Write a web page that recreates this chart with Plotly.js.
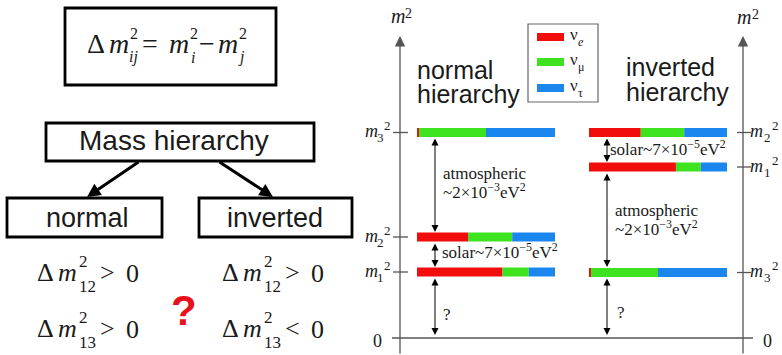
<!DOCTYPE html>
<html>
<head>
<meta charset="utf-8">
<script src="https://cdn.plot.ly/plotly-3.0.1.min.js"></script>
<style>html,body{margin:0;padding:0;background:#fff;}#chart{width:782px;height:355px;}</style>
</head>
<body>
<div id="chart"></div>
<script>
// ---------------- DATA ----------------
const flavors = ['ν_e', 'ν_μ', 'ν_τ'];
const flavorSubs = ['<i>e</i>', 'μ', 'τ'];
// normal hierarchy: mass states from top to bottom
const normalStates = ['3', '2', '1'];
const normalNuE   = [0.015, 0.37, 0.62];
const normalNuMu  = [0.485, 0.32, 0.19];
const normalNuTau = [0.50, 0.31, 0.19];
// inverted hierarchy: mass states from top to bottom
const invertedStates = ['2', '1', '3'];
const invertedNuE   = [0.375, 0.63, 0.015];
const invertedNuMu  = [0.315, 0.18, 0.485];
const invertedNuTau = [0.31, 0.19, 0.50];
const atmLabel = ['atmospheric', '~2×10<sup>−3</sup>eV<sup>2</sup>'];
const solarLabel = 'solar~7×10<sup>−5</sup>eV<sup>2</sup>';
const unknownLabel = '?';
const hierarchyNames = ['normal', 'inverted'];

// ---------------- LAYOUT CONSTANTS ----------------
const SERIF = 'Liberation Serif, Times New Roman, serif';
const SANS = 'Liberation Sans, Arial, sans-serif';
const COLORS = ['#f20d0d', '#3de31f', '#1b87ee'];
const INK = '#1a1a1a';
const AX = '#555555';
const BAR_LEN = 138, BAR_H = 9;
const normalX0 = 417, invertedX0 = 589;
const normalY = [132.5, 237, 272];
const invertedY = [132.5, 167, 272.5];

function txt(x, base, text, size, opt) {
  opt = opt || {};
  return {xref: 'x', yref: 'y', x: x, y: base + 0.22 * size, text: text, showarrow: false,
    xanchor: opt.anchor || 'left', yanchor: 'bottom', borderpad: 0, borderwidth: 0,
    font: {family: opt.family || SERIF, size: size, color: opt.color || INK}};
}
function arrow(x0, y0, x1, y1, opt) {
  opt = opt || {};
  const a = {xref: 'x', yref: 'y', axref: 'x', ayref: 'y', x: x1, y: y1, ax: x0, ay: y0, text: '',
    showarrow: true, arrowhead: 2, arrowsize: opt.size || 1.4, arrowwidth: opt.width || 1,
    arrowcolor: opt.color || '#000', standoff: 0, startstandoff: 0};
  if (opt.both) { a.arrowside = 'end+start'; a.startarrowhead = 2; a.startarrowsize = opt.size || 1.4; }
  return a;
}
function line(x0, y0, x1, y1, color, w) {
  return {type: 'line', xref: 'x', yref: 'y', x0: x0, y0: y0, x1: x1, y1: y1, line: {color: color, width: w}};
}
function rect(x0, y0, x1, y1, color, w, fill) {
  return {type: 'rect', xref: 'x', yref: 'y', x0: x0, y0: y0, x1: x1, y1: y1,
    line: {color: color, width: w}, fillcolor: fill || 'rgba(0,0,0,0)'};
}

// ---------------- BARS ----------------
const normalF = [normalNuE, normalNuMu, normalNuTau];
const invertedF = [invertedNuE, invertedNuMu, invertedNuTau];
const traces = flavors.map(function (name, k) {
  const ys = [], xs = [], bases = [];
  [[normalF, normalY, normalX0], [invertedF, invertedY, invertedX0]].forEach(function (h) {
    const F = h[0], Y = h[1], X0 = h[2];
    for (let i = 0; i < Y.length; i++) {
      let cum = 0;
      for (let j = 0; j < k; j++) cum += F[j][i];
      ys.push(Y[i]); xs.push(F[k][i] * BAR_LEN); bases.push(X0 + cum * BAR_LEN);
    }
  });
  return {type: 'bar', orientation: 'h', name: name, y: ys, x: xs, base: bases, width: BAR_H,
    marker: {color: COLORS[k], line: {width: 0}}, hoverinfo: 'skip', xaxis: 'x', yaxis: 'y'};
});

// ---------------- SHAPES ----------------
const shapes = [
  rect(65, 8, 276, 85, '#000', 2.8),
  rect(46, 123, 314, 161, '#000', 2.8),
  rect(7, 198, 162, 237, '#000', 2.8),
  rect(199, 198, 352, 237, '#000', 2.8),
  line(392, 338, 753, 338, AX, 1.3),
  rect(528, 24, 598, 102, '#666', 1.2),
];
[37, 62, 88].forEach(function (yy, k) {
  shapes.push(rect(537, yy - 4, 564, yy + 4, COLORS[k], 0, COLORS[k]));
});
normalY.forEach(function (yy) { shapes.push(line(393, yy, 408, yy, AX, 1.3)); });
invertedY.forEach(function (yy) { shapes.push(line(737, yy, 751, yy, AX, 1.3)); });

// ---------------- ANNOTATIONS ----------------
const ann = [];
// formula box
ann.push(txt(87, 53, 'Δ', 28));
[[109, 130, 129, 'ij'], [169, 190, 191, 'i'], [218, 239, 238, 'j']].forEach(function (p) {
  ann.push(txt(p[0], 53, '<i>m</i>', 28));
  ann.push(txt(p[1], 38, '2', 16));
  ann.push(txt(p[2], 62, '<i>' + p[3] + '</i>', 16));
});
ann.push(txt(142, 53, '=', 28));
ann.push(txt(199, 53, '−', 28));
// hierarchy boxes
ann.push(txt(173.5, 150, 'Mass hierarchy', 28, {family: SANS, anchor: 'center'}));
ann.push(txt(87.5, 227, hierarchyNames[0], 27, {family: SANS, anchor: 'center'}));
ann.push(txt(275, 227, hierarchyNames[1], 27, {family: SANS, anchor: 'center'}));
ann.push(arrow(140, 161, 87, 197, {width: 3, size: 0.9}));
ann.push(arrow(218, 161, 273, 197, {width: 3, size: 0.9}));
// inequalities
function ineq(x, base, sub, rel) {
  ann.push(txt(x, base, 'Δ', 26));
  ann.push(txt(x + 21, base, '<i>m</i>', 26));
  ann.push(txt(x + 42, base - 14, '2', 17));
  ann.push(txt(x + 42, base + 11, sub, 17));
  ann.push(txt(x + 63, base, rel, 26));
  ann.push(txt(x + 89, base + 1, '0', 26));
}
ineq(37, 281, '12', '>');
ineq(37, 337, '13', '>');
ineq(222, 281, '12', '>');
ineq(222, 337, '13', '<');
ann.push(txt(184, 325, '<b>?</b>', 42, {family: SANS, anchor: 'center', color: '#e8101a'}));

// right panel: axes
ann.push(arrow(400, 355, 400, 36, {color: AX, width: 1.3, size: 1.6}));
ann.push(arrow(743, 355, 743, 36, {color: AX, width: 1.3, size: 1.6}));
ann.push(txt(391, 23, '<i>m</i>', 20)); ann.push(txt(405, 18, '2', 14));
ann.push(txt(737, 24, '<i>m</i>', 20)); ann.push(txt(752, 19, '2', 14));
ann.push(txt(373, 347, '0', 18));
ann.push(txt(763, 347, '0', 18));
function mLabel(xm, xs, xp, lvl, idx) {
  ann.push(txt(xm, lvl + 5, '<i>m</i>', 18));
  ann.push(txt(xs, lvl + 10, idx, 13));
  ann.push(txt(xp, lvl - 2, '2', 13));
}
normalStates.forEach(function (s, i) { mLabel(365, 377, 384, normalY[i], s); });
invertedStates.forEach(function (s, i) { mLabel(750, 764, 772, invertedY[i], s); });
// hierarchy titles
ann.push(txt(417, 78, 'normal', 25, {family: SANS}));
ann.push(txt(417, 102, 'hierarchy', 25, {family: SANS}));
ann.push(txt(626, 75, 'inverted', 25, {family: SANS}));
ann.push(txt(626, 100, 'hierarchy', 25, {family: SANS}));
// legend labels
[37, 62, 88].forEach(function (yy, k) {
  ann.push(txt(570, yy + 3.5, 'ν', 17));
  ann.push(txt(578, yy + 9, flavorSubs[k], 12));
});
// splittings: normal
ann.push(arrow(435, 137, 435, 232, {both: true}));
ann.push(arrow(435, 242, 435, 267, {both: true}));
ann.push(arrow(435, 277, 435, 335, {both: true}));
ann.push(txt(443, 179, atmLabel[0], 17));
ann.push(txt(443, 198, atmLabel[1], 17));
ann.push(txt(442, 258, solarLabel, 17));
ann.push(txt(443, 320, unknownLabel, 17));
// splittings: inverted
ann.push(arrow(607, 137, 607, 162, {both: true}));
ann.push(arrow(607, 172, 607, 267, {both: true}));
ann.push(arrow(607, 277, 607, 335, {both: true}));
ann.push(txt(610, 155, solarLabel, 17));
ann.push(txt(615, 216, atmLabel[0], 17));
ann.push(txt(615, 235, atmLabel[1], 17));
ann.push(txt(617, 318, unknownLabel, 17));

const layout = {
  width: 782, height: 355, margin: {l: 0, r: 0, t: 0, b: 0},
  paper_bgcolor: '#fff', plot_bgcolor: '#fff', showlegend: false, barmode: 'overlay',
  xaxis: {range: [0, 782], visible: false, fixedrange: true},
  yaxis: {range: [355, 0], visible: false, fixedrange: true},
  shapes: shapes, annotations: ann
};
Plotly.newPlot('chart', traces, layout, {staticPlot: true, displayModeBar: false});
</script>
</body>
</html>
